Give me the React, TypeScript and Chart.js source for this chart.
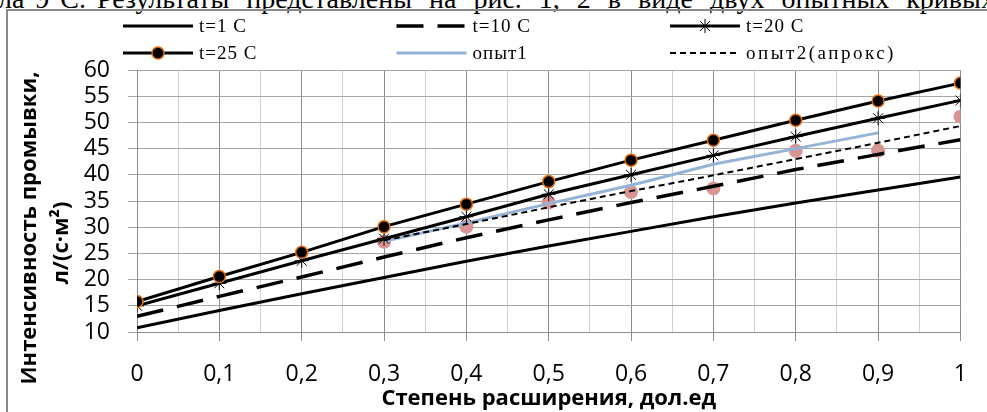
import React, { useEffect, useRef } from 'react';
import { Chart, registerables } from 'chart.js';

Chart.register(...registerables);

// ---- data ----
const xValues = [0, 0.1, 0.2, 0.3, 0.4, 0.5, 0.6, 0.7, 0.8, 0.9, 1];
const t1Values = [10.8, 14.1, 17.3, 20.4, 23.5, 26.4, 29.2, 32.0, 34.6, 37.1, 39.6];
const t10Values = [13.0, 16.8, 20.5, 24.3, 28.0, 31.4, 34.7, 37.8, 41.0, 43.9, 46.7];
const t20Values = [15.0, 19.3, 23.6, 27.8, 32.0, 36.3, 40.0, 43.7, 47.3, 50.8, 54.2];
const t25Values = [15.8, 20.6, 25.2, 30.1, 34.4, 38.7, 42.8, 46.6, 50.4, 54.1, 57.5];
const exp1X = [0.3, 0.4, 0.5, 0.6, 0.7, 0.8, 0.9];
const exp1Values = [27.3, 30.8, 34.5, 38.0, 42.0, 45.0, 48.0];
const exp2X = [0.3, 0.4, 0.5, 0.6, 0.7, 0.8, 0.9, 1.0];
const exp2ApproxValues = [27.5, 30.6, 33.8, 36.9, 39.9, 43.0, 46.1, 49.3];
const exp2PointValues = [27.2, 30.1, 34.7, 36.7, 37.4, 44.6, 44.6, 51.1];

const xTickLabels = ['0', '0,1', '0,2', '0,3', '0,4', '0,5', '0,6', '0,7', '0,8', '0,9', '1'];
const yMin = 10;
const yMax = 60;
const yStep = 5;

const legendLabels = ['t=1 C', 't=10 C', 't=20 C', 't=25 C', 'опыт1', 'опыт2(апрокс)'];
const xTitle = 'Степень расширения, дол.ед';
const yTitleLines = ['Интенсивность промывки,', 'л/(с·м²)'];
const headerLeft = 'была 9 С.\u00a0';
const headerRight = 'Результаты представлены на рис. 1, 2 в виде двух опытных кривых';

const pts = (xs: number[], ys: number[]) => xs.map((x, i) => ({ x, y: ys[i] }));

const ORANGE = '#E36C09';
const BLUE = '#95B3D7';
const PINK = '#D99594';

// legend item -> dataset index
const legendDatasetIdx = [2, 3, 1, 0, 5, 4];

const decorPlugin = {
  id: 'decor',
  afterDraw(chart: any) {
    const ctx = chart.ctx as CanvasRenderingContext2D;
    ctx.save();
    // y axis title
    ctx.fillStyle = '#000';
    ctx.font = 'bold 22px "Open Sans"';
    ctx.textAlign = 'center';
    ctx.textBaseline = 'middle';
    const yTitlePos = [
      [30, 228],
      [62, 243],
    ];
    yTitleLines.forEach((line, i) => {
      ctx.save();
      ctx.translate(yTitlePos[i][0], yTitlePos[i][1]);
      ctx.rotate(-Math.PI / 2);
      ctx.fillText(line, 0, 0);
      ctx.restore();
    });

    // legend
    ctx.font = '19px "Liberation Serif"';
    ctx.textAlign = 'left';
    ctx.textBaseline = 'middle';
    legendLabels.forEach((label, i) => {
      const ds = chart.data.datasets[legendDatasetIdx[i]];
      const col = i % 3;
      const row = Math.floor(i / 3);
      const x0 = 123 + col * 273.5;
      const y = 26 + row * 27;
      const len = 70;
      ctx.save();
      ctx.strokeStyle = ds.borderColor;
      ctx.lineWidth = ds.borderWidth;
      ctx.setLineDash(ds.borderDash || []);
      ctx.beginPath();
      ctx.moveTo(x0, y);
      ctx.lineTo(x0 + len, y);
      ctx.stroke();
      ctx.setLineDash([]);
      const cx = x0 + len / 2;
      if (ds.pointStyle === 'circle' && ds.pointRadius > 0) {
        ctx.beginPath();
        ctx.arc(cx, y, ds.pointRadius, 0, Math.PI * 2);
        ctx.fillStyle = ds.pointBackgroundColor;
        ctx.fill();
        ctx.lineWidth = ds.pointBorderWidth;
        ctx.strokeStyle = ds.pointBorderColor;
        ctx.stroke();
      } else if (ds.pointStyle === 'star' && ds.pointRadius > 0) {
        const r = ds.pointRadius;
        ctx.lineWidth = ds.pointBorderWidth;
        ctx.strokeStyle = ds.pointBorderColor;
        ctx.beginPath();
        ctx.moveTo(cx, y - r);
        ctx.lineTo(cx, y + r);
        const d = r * Math.SQRT1_2;
        ctx.moveTo(cx - d, y - d);
        ctx.lineTo(cx + d, y + d);
        ctx.moveTo(cx + d, y - d);
        ctx.lineTo(cx - d, y + d);
        ctx.stroke();
      }
      ctx.restore();
      ctx.fillStyle = '#000';
      (ctx as any).letterSpacing = i === 5 ? '2.5px' : '1px';
      ctx.fillText(label, x0 + len + 6, y + 1);
    });
    ctx.restore();
  },
};

export default function App() {
  const ref = useRef<HTMLCanvasElement | null>(null);

  useEffect(() => {
    if (!ref.current) return;
    const chart = new Chart(ref.current, {
      type: 'line',
      data: {
        datasets: [
          {
            label: legendLabels[3],
            data: pts(xValues, t25Values),
            borderColor: '#000',
            borderWidth: 3,
            pointStyle: 'circle',
            pointRadius: 6,
            pointBackgroundColor: '#000',
            pointBorderColor: ORANGE,
            pointBorderWidth: 1.5,
            tension: 0,
          },
          {
            label: legendLabels[2],
            data: pts(xValues, t20Values),
            borderColor: '#000',
            borderWidth: 3,
            pointStyle: 'star',
            pointRadius: 7,
            pointBackgroundColor: '#000',
            pointBorderColor: '#000',
            pointBorderWidth: 1,
            tension: 0,
          },
          {
            label: legendLabels[0],
            data: pts(xValues, t1Values),
            borderColor: '#000',
            borderWidth: 3,
            pointRadius: 0,
            tension: 0,
          },
          {
            label: legendLabels[1],
            data: pts(xValues, t10Values),
            borderColor: '#000',
            borderWidth: 3.5,
            borderDash: [27, 14],
            pointRadius: 0,
            tension: 0,
          },
          {
            label: legendLabels[5],
            data: pts(exp2X, exp2ApproxValues),
            borderColor: '#000',
            borderWidth: 2,
            borderDash: [6, 4],
            pointRadius: 0,
            tension: 0,
          },
          {
            label: legendLabels[4],
            data: pts(exp1X, exp1Values),
            borderColor: BLUE,
            borderWidth: 3,
            pointRadius: 0,
            tension: 0,
          },
          {
            label: 'опыт2',
            data: pts(exp2X, exp2PointValues),
            showLine: false,
            borderColor: PINK,
            pointStyle: 'circle',
            pointRadius: 7,
            pointBackgroundColor: PINK,
            pointBorderColor: PINK,
            pointBorderWidth: 0,
          },
        ],
      },
      options: {
        animation: false,
        responsive: false,
        layout: { padding: { left: 0, right: 20, top: 70, bottom: 0 } },
        plugins: {
          legend: { display: false },
          tooltip: { enabled: false },
          title: { display: false },
        },
        scales: {
          x: {
            type: 'linear',
            min: 0,
            max: 1,
            afterFit: (s: any) => {
              s.height = 80;
            },
            ticks: {
              stepSize: 0.05,
              autoSkip: false,
              maxRotation: 0,
              padding: 20,
              color: '#000',
              font: { family: 'Open Sans', size: 23 },
              callback: (_v: any, index: number) => (index % 2 === 0 ? xTickLabels[index / 2] : ''),
            },
            grid: {
              color: (c: any) => (c.index % 2 === 0 ? '#8c8c8c' : '#d0d0d0'),
              tickColor: (c: any) => (c.index % 2 === 0 ? '#8c8c8c' : 'rgba(0,0,0,0)'),
              tickLength: 9,
              lineWidth: 1,
            },
            border: { color: '#8c8c8c' },
            title: {
              display: true,
              text: xTitle,
              color: '#000',
              font: { family: 'Open Sans', size: 22, weight: 'bold' },
              padding: { top: 0, bottom: 0 },
            },
          },
          y: {
            type: 'linear',
            min: yMin,
            max: yMax,
            afterFit: (s: any) => {
              s.width = 137;
            },
            ticks: {
              stepSize: yStep,
              autoSkip: false,
              padding: 18,
              color: '#000',
              font: { family: 'Open Sans', size: 23 },
            },
            grid: {
              color: '#a6a6a6',
              tickColor: '#a6a6a6',
              tickLength: 9,
              lineWidth: 1,
            },
            border: { color: '#8c8c8c' },
          },
        },
      },
      plugins: [decorPlugin],
    } as any);
    return () => chart.destroy();
  }, []);

  const headerStyle: React.CSSProperties = {
    position: 'absolute',
    top: -15,
    font: '28px "Liberation Serif"',
    lineHeight: '28px',
    whiteSpace: 'nowrap',
    color: '#000',
  };

  return (
    <div
      style={{
        position: 'fixed',
        left: 0,
        top: 0,
        width: 987,
        height: 412,
        overflow: 'hidden',
        background: '#fff',
      }}
    >
      <div style={{ ...headerStyle, right: 987 - 97, wordSpacing: 4 }}>{headerLeft}</div>
      <div style={{ ...headerStyle, left: 97, wordSpacing: 10 }}>{headerRight}</div>
      <div
        style={{
          position: 'absolute',
          left: 6,
          top: 9,
          width: 1000,
          height: 420,
          borderLeft: '2px solid #8a8a8a',
          borderTop: '2px solid #8a8a8a',
        }}
      />
      <canvas
        ref={ref}
        width={987}
        height={412}
        style={{ position: 'absolute', left: 0, top: 0, width: 987, height: 412 }}
      />
    </div>
  );
}
